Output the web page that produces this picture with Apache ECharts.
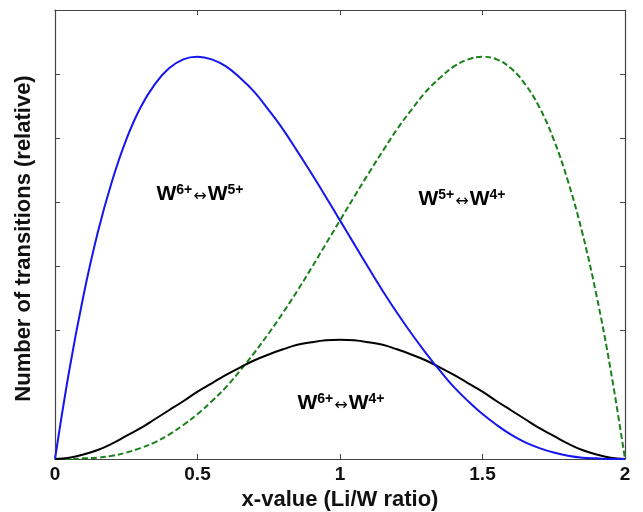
<!DOCTYPE html>
<html>
<head>
<meta charset="utf-8">
<script src="https://cdn.jsdelivr.net/npm/echarts@6/dist/echarts.min.js"></script>
<style>
  html, body { margin: 0; padding: 0; background: #fff; }
  #chart { width: 643px; height: 512px; }
</style>
</head>
<body>
<div id="chart"></div>
<script>
// x-value (Li/W ratio), step 0.05
var xValues = [0, 0.05, 0.1, 0.15, 0.2, 0.25, 0.3, 0.35, 0.4, 0.45, 0.5, 0.55, 0.6, 0.65, 0.7, 0.75, 0.8, 0.85, 0.9, 0.95,
    1, 1.05, 1.1, 1.15, 1.2, 1.25, 1.3, 1.35, 1.4, 1.45, 1.5, 1.55, 1.6, 1.65, 1.7, 1.75, 1.8, 1.85, 1.9, 1.95, 2];

// W6+ <-> W5+ (blue)
var w65 = [0, 1.38, 2.55, 3.53, 4.33, 4.98, 5.48, 5.84, 6.09, 6.23, 6.27, 6.23, 6.12, 5.94, 5.72, 5.44, 5.14, 4.80, 4.45, 4.09,
    3.72, 3.35, 2.98, 2.62, 2.28, 1.96, 1.66, 1.38, 1.12, 0.90, 0.70, 0.53, 0.38, 0.26, 0.17, 0.10, 0.05, 0.02, 0.01, 0, 0];

// W5+ <-> W4+ (green dashed)
var w54 = [0, 0, 0.01, 0.02, 0.05, 0.10, 0.17, 0.26, 0.38, 0.53, 0.70, 0.90, 1.12, 1.38, 1.66, 1.96, 2.28, 2.62, 2.98, 3.35,
    3.72, 4.09, 4.45, 4.80, 5.14, 5.44, 5.72, 5.94, 6.12, 6.23, 6.27, 6.23, 6.09, 5.84, 5.48, 4.98, 4.33, 3.53, 2.55, 1.38, 0];

// W6+ <-> W4+ (black)
var w64 = [0, 0.02, 0.07, 0.14, 0.24, 0.36, 0.48, 0.62, 0.76, 0.90, 1.05, 1.18, 1.31, 1.43, 1.54, 1.63, 1.71, 1.78, 1.82, 1.85,
    1.86, 1.85, 1.82, 1.78, 1.71, 1.63, 1.54, 1.43, 1.31, 1.18, 1.05, 0.90, 0.76, 0.62, 0.48, 0.36, 0.24, 0.14, 0.07, 0.02, 0];

var xTicks = [0, 0.5, 1, 1.5, 2];
var xTickValues = [0.5, 1, 1.5];
var yTickValues = [2, 3, 4, 5, 6];

function pairs(ys) {
    return xValues.map(function (x, i) { return [x, ys[i]]; });
}

var font = 'Liberation Sans, Arial, sans-serif';
var axisColor = '#444';

var labelRich = {
    w: { fontSize: 21, fontWeight: 'bold', fontFamily: font, color: '#111', lineHeight: 22, verticalAlign: 'bottom' },
    s: { fontSize: 14, fontWeight: 'bold', fontFamily: font, color: '#111', lineHeight: 13, verticalAlign: 'top' },
    a: { fontSize: 16, fontFamily: 'DejaVu Sans', color: '#111', lineHeight: 15, verticalAlign: 'bottom', padding: [0, 1, 0, 1] }
};

function transitionLabel(a, b, cx, top) {
    return {
        type: 'text',
        x: cx,
        y: top,
        style: {
            text: '{w|W}{s|' + a + '}{a|↔}{w|W}{s|' + b + '}',
            rich: labelRich,
            align: 'center',
            verticalAlign: 'top'
        }
    };
}

function frameAxis(extra) {
    var base = {
        type: 'value',
        axisLine: { show: true, onZero: false, lineStyle: { color: axisColor, width: 1.2 } },
        axisTick: { show: true, inside: true, length: 5, lineStyle: { color: axisColor } },
        axisLabel: { show: false },
        splitLine: { show: false }
    };
    return Object.assign(base, extra);
}

function curve(name, ys, lineStyle, z) {
    return {
        name: name,
        type: 'line',
        data: pairs(ys),
        smooth: 0.4,
        showSymbol: false,
        lineStyle: lineStyle,
        z: z
    };
}

var option = {
    animation: false,
    grid: { left: 55, right: 18, top: 10, bottom: 53, outerBoundsMode: 'none', containLabel: false },
    xAxis: [frameAxis({
        min: 0,
        max: 2,
        interval: 0.5,
        name: 'x-value (Li/W ratio)',
        nameLocation: 'middle',
        nameGap: 27,
        nameTextStyle: { fontSize: 22, fontWeight: 'bold', fontFamily: font, color: '#111' },
        axisTick: { show: true, inside: true, length: 5, customValues: xTickValues, lineStyle: { color: axisColor } },
        axisLabel: {
            show: true, margin: 6, fontSize: 19, fontWeight: 'bold', fontFamily: font, color: '#111',
            customValues: xTicks,
            formatter: function (v) { return String(v); }
        }
    }), frameAxis({
        position: 'top',
        min: 0,
        max: 2,
        interval: 0.5,
        axisTick: { show: true, inside: true, length: 5, customValues: xTickValues, lineStyle: { color: axisColor } }
    })],
    yAxis: [frameAxis({
        min: 0,
        max: 7,
        interval: 1,
        name: 'Number of transitions (relative)',
        nameLocation: 'middle',
        nameGap: 20,
        nameTextStyle: { fontSize: 22, fontWeight: 'bold', fontFamily: font, color: '#111', padding: [0, 8, 0, 0] },
        axisTick: { show: true, inside: true, length: 5, customValues: yTickValues, lineStyle: { color: axisColor } }
    }), frameAxis({
        position: 'right',
        min: 0,
        max: 7,
        interval: 1,
        axisTick: { show: true, inside: true, length: 5, customValues: yTickValues, lineStyle: { color: axisColor } }
    })],
    series: [
        curve('W6+↔W4+', w64, { color: '#000', width: 2 }, 3),
        curve('W5+↔W4+', w54, { color: '#1a801a', width: 2, type: [6, 3] }, 2),
        curve('W6+↔W5+', w65, { color: '#1515ee', width: 2 }, 4)
    ],
    graphic: [
        transitionLabel('6+', '5+', 200, 183),
        transitionLabel('5+', '4+', 462, 188),
        transitionLabel('6+', '4+', 341, 392)
    ]
};

var chart = echarts.init(document.getElementById('chart'));
chart.setOption(option);
</script>
</body>
</html>
